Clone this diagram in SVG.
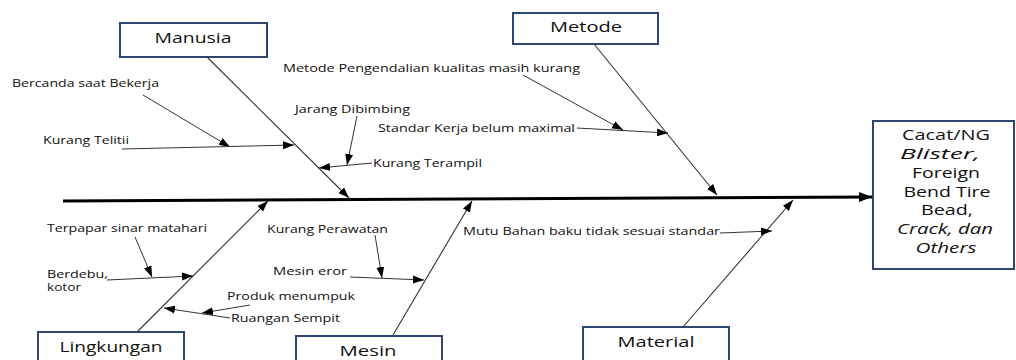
<svg xmlns="http://www.w3.org/2000/svg" width="1016" height="360" viewBox="0 0 1016 360">
<defs>
<style>
.box{fill:#fff;stroke:#2F4470;stroke-width:2}
.ttl{font-family:"Open Sans","Liberation Sans",sans-serif;font-size:15px;fill:#111;text-anchor:middle}
.lbl{font-family:"Open Sans","Liberation Sans",sans-serif;font-size:11px;fill:#111}
.eff{font-family:"Open Sans","Liberation Sans",sans-serif;font-size:14.5px;fill:#111;text-anchor:middle}
.it{font-style:italic}
.ln{stroke:#333;stroke-width:1;fill:none;marker-end:url(#ah)}
.bone{stroke:#333;stroke-width:1.1;fill:none;marker-end:url(#ah)}
</style>
<marker id="ah" markerUnits="userSpaceOnUse" markerWidth="12" markerHeight="10" viewBox="0 0 12 10" refX="11" refY="5" orient="auto">
<path d="M0,1 L11,5 L0,9 Z" fill="#000"/>
</marker>
<marker id="ahs" markerUnits="userSpaceOnUse" markerWidth="14" markerHeight="12" viewBox="0 0 14 12" refX="13" refY="6" orient="auto">
<path d="M0,1 L13,6 L0,11 Z" fill="#000"/>
</marker>
</defs>
<rect width="1016" height="360" fill="#fff"/>
<g id="connectors">
<line x1="63" y1="201" x2="872" y2="197" stroke="#000" stroke-width="3" marker-end="url(#ahs)"/>
<line class="bone" x1="207" y1="57" x2="349" y2="198"/>
<line class="bone" x1="594" y1="44" x2="717" y2="195"/>
<line class="bone" x1="136" y1="333" x2="268" y2="201"/>
<line class="bone" x1="393" y1="335" x2="472" y2="201"/>
<line class="bone" x1="683" y1="327" x2="793" y2="200"/>
<line class="ln" x1="143" y1="95" x2="230" y2="147"/>
<line class="ln" x1="122" y1="149" x2="294" y2="145"/>
<line class="ln" x1="357" y1="116" x2="347" y2="165"/>
<line class="ln" x1="372" y1="163" x2="319" y2="168"/>
<line class="ln" x1="523" y1="75" x2="623" y2="130"/>
<line class="ln" x1="577" y1="128" x2="668" y2="133"/>
<line class="ln" x1="135" y1="237" x2="152" y2="277"/>
<line class="ln" x1="107" y1="280" x2="193" y2="276"/>
<line class="ln" x1="250" y1="305" x2="202" y2="313"/>
<line class="ln" x1="230" y1="318" x2="164" y2="308"/>
<line class="ln" x1="375" y1="235" x2="382" y2="278"/>
<line class="ln" x1="350" y1="277" x2="424" y2="280"/>
<line class="ln" x1="720" y1="233" x2="772" y2="231"/>
</g>
<g id="manusia"><rect class="box" x="120" y="23" width="147" height="34"/><text class="ttl" x="193" y="43" textLength="77" lengthAdjust="spacingAndGlyphs">Manusia</text></g>
<g id="metode"><rect class="box" x="513" y="13" width="145" height="31"/><text class="ttl" x="586" y="32" textLength="72" lengthAdjust="spacingAndGlyphs">Metode</text></g>
<g id="lingkungan"><rect class="box" x="38" y="332" width="146" height="40"/><text class="ttl" x="111" y="352" textLength="103" lengthAdjust="spacingAndGlyphs">Lingkungan</text></g>
<g id="mesin"><rect class="box" x="296" y="336" width="146" height="40"/><text class="ttl" x="368" y="356" textLength="57" lengthAdjust="spacingAndGlyphs">Mesin</text></g>
<g id="material"><rect class="box" x="583" y="327" width="146" height="40"/><text class="ttl" x="656" y="347" textLength="77" lengthAdjust="spacingAndGlyphs">Material</text></g>
<g id="effect"><rect class="box" x="873" y="121" width="141" height="148"/>
<text class="eff" x="946" y="140" textLength="88" lengthAdjust="spacingAndGlyphs">Cacat/NG</text>
<text class="eff it" x="940" y="159" textLength="80" lengthAdjust="spacingAndGlyphs">Blister,</text>
<text class="eff" x="946" y="178" textLength="68" lengthAdjust="spacingAndGlyphs">Foreign</text>
<text class="eff" x="947" y="197" textLength="87" lengthAdjust="spacingAndGlyphs">Bend Tire</text>
<text class="eff" x="947" y="215" textLength="52" lengthAdjust="spacingAndGlyphs">Bead,</text>
<text class="eff it" x="945" y="234" textLength="96" lengthAdjust="spacingAndGlyphs">Crack, dan</text>
<text class="eff it" x="946" y="253" textLength="61" lengthAdjust="spacingAndGlyphs">Others</text>
</g>
<g id="labels">
<text class="lbl" x="12" y="87" textLength="147" lengthAdjust="spacingAndGlyphs">Bercanda saat Bekerja</text>
<text class="lbl" x="43" y="144" textLength="86" lengthAdjust="spacingAndGlyphs">Kurang Telitii</text>
<text class="lbl" x="295" y="113" textLength="115" lengthAdjust="spacingAndGlyphs">Jarang Dibimbing</text>
<text class="lbl" x="373" y="167" textLength="109" lengthAdjust="spacingAndGlyphs">Kurang Terampil</text>
<text class="lbl" x="283" y="72" textLength="297" lengthAdjust="spacingAndGlyphs">Metode Pengendalian kualitas masih kurang</text>
<text class="lbl" x="378" y="132" textLength="197" lengthAdjust="spacingAndGlyphs">Standar Kerja belum maximal</text>
<text class="lbl" x="47" y="232" textLength="160" lengthAdjust="spacingAndGlyphs">Terpapar sinar matahari</text>
<text class="lbl" x="47" y="278" textLength="61" lengthAdjust="spacingAndGlyphs">Berdebu,</text>
<text class="lbl" x="47" y="291" textLength="34" lengthAdjust="spacingAndGlyphs">kotor</text>
<text class="lbl" x="227" y="300" textLength="128" lengthAdjust="spacingAndGlyphs">Produk menumpuk</text>
<text class="lbl" x="231" y="322" textLength="109" lengthAdjust="spacingAndGlyphs">Ruangan Sempit</text>
<text class="lbl" x="267" y="233" textLength="121" lengthAdjust="spacingAndGlyphs">Kurang Perawatan</text>
<text class="lbl" x="273" y="275" textLength="74" lengthAdjust="spacingAndGlyphs">Mesin eror</text>
<text class="lbl" x="463" y="235" textLength="257" lengthAdjust="spacingAndGlyphs">Mutu Bahan baku tidak sesuai standar</text>
</g>
</svg>
